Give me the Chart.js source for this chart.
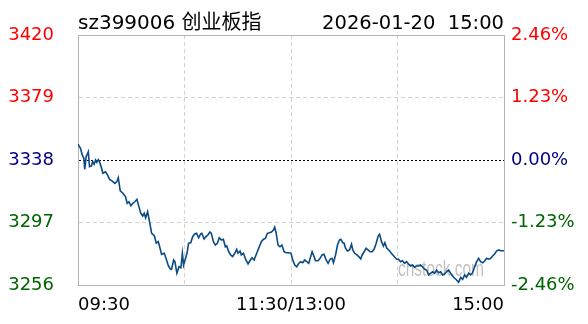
<!DOCTYPE html>
<html>
<head>
<meta charset="utf-8">
<script src="https://cdn.jsdelivr.net/npm/chart.js@4.4.1/dist/chart.umd.min.js"></script>
<style>
  html, body { margin: 0; padding: 0; background: #fff; }
  canvas { display: block; }
</style>
</head>
<body>
<canvas id="chart" width="588" height="324"></canvas>
<script>
// --- Data (minutes since 09:30, lunch break removed) ---
const titleLeft = "sz399006 创业板指";
const titleRight = "2026-01-20  15:00";
const prevClose = 3338;
const priceTicks = [3256, 3297, 3338, 3379, 3420];
const timeTicks = [0, 60, 120, 180, 240];
const timeLabels = ["09:30", "", "11:30/13:00", "", "15:00"];

const amMinutes = [
  0, 1.4, 2.4, 3.3, 3.8, 4.6, 5.8, 6.5, 7.6, 8.3,
  9.1, 9.9, 10.6, 11.4, 12.1, 13.3, 14.0, 15.5, 16.6, 17.8,
  19.3, 20.8, 21.9, 22.7, 23.8, 25.3, 26.8, 27.7, 28.7, 29.8,
  30.9, 32.0, 33.2, 34.3, 35.4, 36.5, 37.3, 38.1, 39.2, 40.3,
  41.5, 43.0, 44.1, 45.2, 46.0, 47.1, 48.6, 49.7, 50.9, 52.0,
  52.7, 53.9, 54.6, 55.7, 56.9, 58.0, 58.8, 59.5, 60.6, 61.4,
  62.3, 63.5, 64.6, 65.7, 66.8, 68.0, 69.1, 69.8, 71.0, 72.1,
  73.2, 74.3, 75.1, 76.3, 77.4, 78.5, 79.6, 80.8, 81.9, 83.0,
  83.8, 84.9, 86.0, 87.1, 88.3, 89.4, 90.1, 91.3, 92.0, 93.2,
  94.6, 95.8, 96.9, 98.0, 99.2, 100.3, 101.8, 103.3, 104.5, 105.6,
  106.7, 107.8, 109.0, 110.1, 110.8, 111.6, 112.7, 113.8, 114.9, 116.1,
  117.2, 118.7, 120.0
];
const amPrices = [
  3348.3, 3345.7, 3341.3, 3339.1, 3331.9, 3340.2, 3343.4, 3333.6, 3334.1, 3336.9,
  3335.2, 3338.0, 3336.5, 3338.2, 3336.9, 3332.6, 3329.3, 3330.3, 3328.2, 3325.3,
  3324.2, 3322.7, 3323.8, 3326.4, 3317.7, 3316.2, 3313.9, 3309.6, 3310.6, 3308.0,
  3309.6, 3310.6, 3312.2, 3307.4, 3303.0, 3301.3, 3303.0, 3300.1, 3304.1, 3297.5,
  3289.9, 3288.3, 3283.4, 3284.4, 3281.1, 3276.1, 3276.8, 3273.1, 3268.7, 3266.5,
  3266.3, 3272.4, 3271.3, 3263.7, 3268.0, 3267.3, 3276.8, 3269.1, 3273.5, 3276.8,
  3283.4, 3283.7, 3287.7, 3289.5, 3289.9, 3287.0, 3289.5, 3289.9, 3286.2, 3287.7,
  3288.8, 3290.8, 3289.9, 3284.4, 3282.2, 3283.4, 3287.0, 3285.5, 3286.0, 3281.1,
  3281.6, 3277.8, 3275.7, 3274.6, 3276.8, 3279.4, 3276.8, 3278.3, 3275.7, 3276.8,
  3272.4, 3269.8, 3271.9, 3273.9, 3272.4, 3275.7, 3280.1, 3284.4, 3286.0, 3286.6,
  3289.9, 3290.3, 3290.8, 3292.1, 3293.9, 3290.3, 3282.2, 3281.1, 3282.2, 3277.8,
  3277.2, 3277.2, 3276.8
];
const pmMinutes = [
  121.0, 122.1, 123.2, 124.4, 125.5, 126.6, 127.7, 128.9, 130.0, 131.1,
  131.9, 133.0, 133.8, 135.2, 136.4, 137.5, 138.6, 139.8, 140.9, 142.0,
  143.1, 143.9, 145.1, 146.2, 147.3, 148.1, 149.2, 149.9, 150.7, 151.8,
  153.0, 154.1, 154.8, 155.9, 157.1, 158.2, 159.3, 160.1, 161.2, 162.3,
  163.4, 164.6, 165.7, 166.8, 168.0, 169.1, 169.9, 171.0, 172.1, 172.9,
  174.0, 175.1, 176.3, 177.4, 178.5, 179.6,
  180.6, 181.7, 182.8, 184.0, 185.1, 186.2, 187.4, 188.5, 189.6, 190.7,
  191.9, 193.0, 194.1, 195.3, 196.4, 197.5, 198.6, 199.8, 200.9, 202.0,
  203.1, 204.3, 205.4, 206.5, 207.6, 208.8, 209.9, 211.0, 212.2, 213.3,
  214.4, 215.6, 216.7, 217.8, 218.9, 220.1, 221.2, 222.3, 223.5, 224.6,
  225.7, 226.8, 228.0, 229.1, 230.2, 231.3, 232.5, 233.6, 234.7, 235.8,
  237.0, 238.1, 239.2, 240
];
const pmPrices = [
  3272.4, 3269.1, 3268.0, 3270.2, 3271.3, 3270.6, 3272.4, 3271.3, 3270.2, 3274.6,
  3277.8, 3274.6, 3271.9, 3271.9, 3273.5, 3275.7, 3276.1, 3272.4, 3270.2, 3272.9,
  3273.5, 3270.6, 3275.7, 3282.2, 3285.5, 3286.0, 3283.7, 3283.4, 3280.1, 3278.3,
  3279.0, 3282.7, 3279.0, 3276.8, 3275.7, 3274.6, 3273.1, 3275.7, 3277.8, 3280.1,
  3279.0, 3277.8, 3277.8, 3279.4, 3283.4, 3288.1, 3289.3, 3284.4, 3281.6, 3283.7,
  3280.1, 3279.0, 3277.2, 3275.7, 3274.2, 3272.9,
  3272.9, 3271.3, 3271.9, 3270.2, 3271.3, 3269.8, 3268.5, 3269.1, 3267.6, 3268.5,
  3268.5, 3269.1, 3268.0, 3266.3, 3265.8, 3262.6, 3263.7, 3264.7, 3263.7, 3265.8,
  3264.1, 3264.7, 3262.6, 3263.2, 3264.7, 3265.8, 3263.7, 3261.9, 3260.4, 3259.3,
  3257.8, 3261.0, 3259.7, 3262.6, 3261.0, 3263.7, 3262.6, 3264.1, 3268.0, 3271.3,
  3273.5, 3271.3, 3270.6, 3271.7, 3273.5, 3272.9, 3273.5, 3275.0, 3276.3, 3278.3,
  3279.0, 3278.5, 3278.5, 3278.5
];

// --- Helpers ---
const FONT = '"DejaVu Sans", "Noto Sans CJK SC", sans-serif';
const priceColor = (v) => (v > prevClose ? "#ff0000" : v < prevClose ? "#006400" : "#000080");
const pctLabel = (v) => ((v - prevClose) / prevClose * 100).toFixed(2) + "%";

const minutes = amMinutes.concat(pmMinutes);
const prices = amPrices.concat(pmPrices);
const points = minutes.map((m, i) => ({ x: m, y: prices[i] }));

// --- Plugins: header text + watermark ---
const headerPlugin = {
  id: "header",
  afterDraw(chart) {
    const { ctx, chartArea } = chart;
    ctx.save();
    ctx.fillStyle = "#000";
    ctx.textBaseline = "alphabetic";
    ctx.font = "20px " + FONT;
    ctx.textAlign = "left";
    ctx.fillText(titleLeft, chartArea.left, 29);
    ctx.font = "19.5px " + FONT;
    ctx.textAlign = "right";
    ctx.fillText(titleRight, chartArea.right, 29);
    ctx.restore();
  },
};

const watermarkPlugin = {
  id: "watermark",
  beforeDatasetsDraw(chart) {
    const { ctx, chartArea } = chart;
    ctx.save();
    ctx.fillStyle = "rgba(150,150,150,0.6)";
    ctx.font = '22px "Liberation Sans", sans-serif';
    ctx.textAlign = "left";
    ctx.textBaseline = "alphabetic";
    ctx.fillText("cnstock.com", chartArea.right - 106, chartArea.bottom - 9, 86);
    ctx.restore();
  },
};

// --- Chart ---
const ctx = document.getElementById("chart").getContext("2d");
new Chart(ctx, {
  type: "line",
  data: {
    datasets: [
      {
        data: points,
        borderColor: "#0b4a82",
        borderWidth: 1.6,
        pointRadius: 0,
        tension: 0,
        yAxisID: "y",
      },
    ],
  },
  options: {
    responsive: false,
    animation: false,
    layout: { padding: { left: 8, top: 35, right: 0, bottom: 0 } },
    plugins: { legend: { display: false }, tooltip: { enabled: false } },
    scales: {
      x: {
        type: "linear",
        min: 0,
        max: 240,
        afterBuildTicks: (scale) => {
          scale.ticks = timeTicks.map((v) => ({ value: v }));
        },
        afterFit: (scale) => {
          scale.height = 39;
        },
        ticks: {
          autoSkip: false,
          maxRotation: 0,
          align: "inner",
          padding: 10,
          color: "#000",
          font: { family: FONT, size: 18 },
          callback: (value, index) => timeLabels[index],
        },
        grid: {
          drawTicks: false,
          color: (c) => (c.tick && (c.tick.value === 0 || c.tick.value === 240) ? "#b4b4b4" : "#d2d2d2"),
        },
        border: {
          color: "#b4b4b4",
          dash: (c) => (c.tick && (c.tick.value === 0 || c.tick.value === 240) ? [] : [4, 3]),
        },
      },
      y: {
        position: "left",
        min: priceTicks[0],
        max: priceTicks[priceTicks.length - 1],
        afterBuildTicks: (scale) => {
          scale.ticks = priceTicks.map((v) => ({ value: v }));
        },
        afterFit: (scale) => {
          scale.width = 70;
        },
        ticks: {
          padding: 24,
          font: { family: FONT, size: 18 },
          color: (c) => priceColor(c.tick.value),
          callback: (v) => String(v),
        },
        grid: {
          drawTicks: false,
          color: (c) => {
            const v = c.tick && c.tick.value;
            if (v === prevClose) return "#000";
            if (v === priceTicks[0] || v === priceTicks[priceTicks.length - 1]) return "#b4b4b4";
            return "#d2d2d2";
          },
        },
        border: {
          color: "#b4b4b4",
          dash: (c) => {
            const v = c.tick && c.tick.value;
            if (v === prevClose) return [2, 2];
            if (v === priceTicks[0] || v === priceTicks[priceTicks.length - 1]) return [];
            return [4, 3];
          },
        },
      },
      y2: {
        position: "right",
        min: priceTicks[0],
        max: priceTicks[priceTicks.length - 1],
        afterBuildTicks: (scale) => {
          scale.ticks = priceTicks.map((v) => ({ value: v }));
        },
        afterFit: (scale) => {
          scale.width = 84;
        },
        ticks: {
          padding: 7,
          font: { family: FONT, size: 18 },
          color: (c) => priceColor(c.tick.value),
          callback: (v) => pctLabel(v),
        },
        grid: { drawOnChartArea: false, drawTicks: false },
        border: { color: "#b4b4b4" },
      },
    },
  },
  plugins: [watermarkPlugin, headerPlugin],
});
</script>
</body>
</html>
